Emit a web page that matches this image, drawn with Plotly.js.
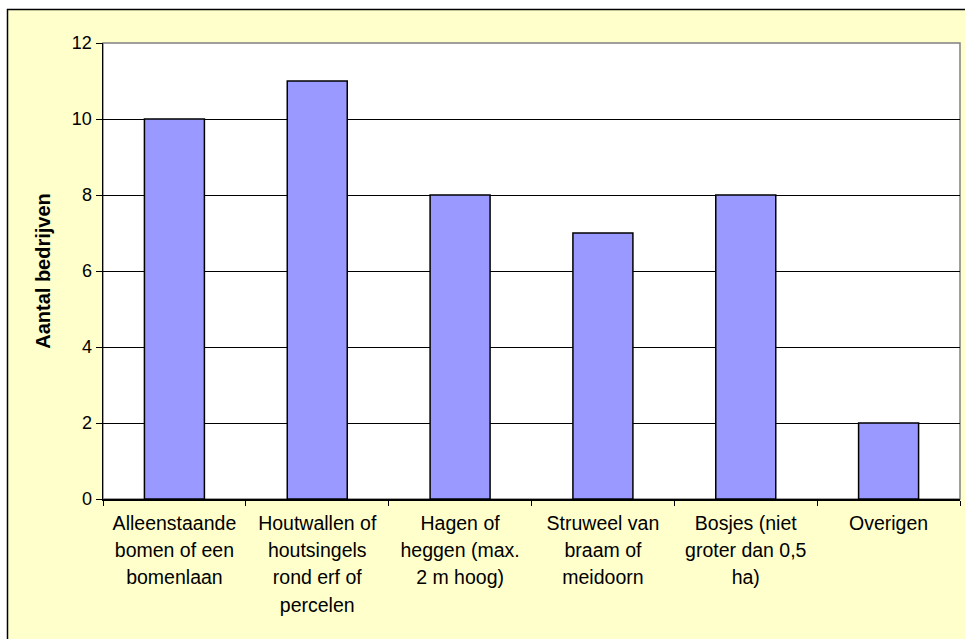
<!DOCTYPE html>
<html>
<head>
<meta charset="utf-8">
<script src="https://cdn.plot.ly/plotly-3.0.1.min.js"></script>
<style>html,body{margin:0;padding:0;background:#fff;}#chart{width:965px;height:639px;}</style>
</head>
<body>
<div id="chart"></div>
<script>
// Data
const categories = [
  "Alleenstaande bomen of een bomenlaan",
  "Houtwallen of houtsingels rond erf of percelen",
  "Hagen of heggen (max. 2 m hoog)",
  "Struweel van braam of meidoorn",
  "Bosjes (niet groter dan 0,5 ha)",
  "Overigen"
];
const tickLines = [
  ["Alleenstaande", "bomen of een", "bomenlaan"],
  ["Houtwallen of", "houtsingels", "rond erf of", "percelen"],
  ["Hagen of", "heggen (max.", "2 m hoog)"],
  ["Struweel van", "braam of", "meidoorn"],
  ["Bosjes (niet", "groter dan 0,5", "ha)"],
  ["Overigen"]
];
const values = [10, 11, 8, 7, 8, 2];
const yTitle = "Aantal bedrijven";

const LABEL_PX = 19.5;
const tickText = tickLines.map(lines =>
  lines.map(l => '<span style="font-size:' + LABEL_PX + 'px">' + l + '</span>').join('<br>')
);

const W = 965, H = 639;
const m = {l: 103, r: 5, t: 43, b: 140};
const pw = W - m.l - m.r, ph = H - m.t - m.b;
const px2x = p => (p - m.l) / pw;
const px2y = p => (H - m.b - p) / ph;

const trace = {
  type: 'bar',
  x: categories,
  y: values,
  marker: {color: '#9999FF', line: {color: '#000000', width: 1.5}},
  hoverinfo: 'x+y'
};

const layout = {
  width: W, height: H,
  margin: m,
  paper_bgcolor: '#FFFFFF',
  plot_bgcolor: 'rgba(0,0,0,0)',
  font: {family: 'Liberation Sans, Arial, sans-serif', color: '#000000', size: 18},
  showlegend: false,
  bargap: 0.58,
  shapes: [
    {type: 'rect', xref: 'paper', yref: 'paper', layer: 'below',
     x0: px2x(7.5), x1: px2x(980), y0: px2y(660), y1: px2y(9.5),
     fillcolor: '#FFFFCC', line: {color: '#000000', width: 1.5}},
    {type: 'rect', xref: 'paper', yref: 'paper', layer: 'below',
     x0: 0, x1: 1, y0: 0, y1: 1,
     fillcolor: '#FFFFFF', line: {color: '#808080', width: 1.5}}
  ],
  xaxis: {
    type: 'category',
    tickmode: 'array',
    tickvals: categories,
    ticktext: tickText,
    tickson: 'boundaries',
    ticks: 'outside', ticklen: 5, tickcolor: '#000000', tickwidth: 1,
    showline: true, linecolor: '#000000', linewidth: 1.5,
    showgrid: false, zeroline: false,
    tickfont: {size: 21, family: 'Liberation Sans, Arial, sans-serif', color: '#000000'},
    tickangle: 0,
    ticklabelstandoff: 4,
    automargin: false
  },
  yaxis: {
    range: [0, 12],
    dtick: 2,
    tick0: 0,
    ticks: 'outside', ticklen: 6, tickcolor: '#000000', tickwidth: 1,
    showline: true, linecolor: '#000000', linewidth: 1.5,
    showgrid: true, gridcolor: '#000000', gridwidth: 1,
    zeroline: false,
    tickfont: {size: 18, family: 'Liberation Sans, Arial, sans-serif', color: '#000000'},
    title: {text: yTitle, font: {size: 20, family: 'Liberation Sans, Arial, sans-serif', weight: 'bold', color: '#000000'}, standoff: 16},
    automargin: false
  }
};

Plotly.newPlot('chart', [trace], layout, {staticPlot: true, displayModeBar: false});
</script>
</body>
</html>
